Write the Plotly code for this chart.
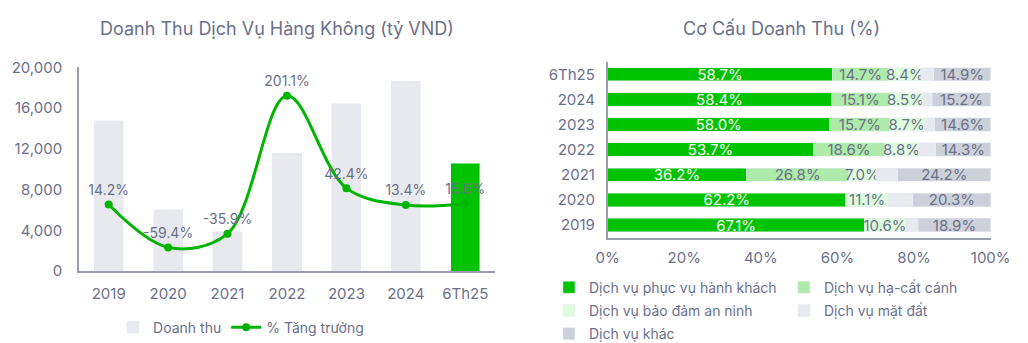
import plotly.graph_objects as go

# ---- Data ----
periods = ["2019", "2020", "2021", "2022", "2023", "2024", "6Th25"]
revenue = [14730, 5990, 3840, 11560, 16430, 18650, 10600]
growth = [14.2, -59.4, -35.9, 201.1, 42.4, 13.4, 15.6]

seg_names = ["Dịch vụ phục vụ hành khách", "Dịch vụ hạ-cất cánh",
             "Dịch vụ bảo đảm an ninh", "Dịch vụ mặt đất", "Dịch vụ khác"]
pax = [67.1, 62.2, 36.2, 53.7, 58.0, 58.4, 58.7]
landing = [0.0, 0.0, 26.8, 18.6, 15.7, 15.1, 14.7]
security = [10.6, 11.1, 7.0, 8.8, 8.7, 8.5, 8.4]
ground = [3.4, 6.4, 5.8, 4.6, 3.0, 2.8, 3.3]
other = [18.9, 20.3, 24.2, 14.3, 14.6, 15.2, 14.9]
show_label = [True, True, True, False, True]
legend_col = ["legend2", "legend3", "legend2", "legend3", "legend2"]

GRAY_TXT = "#6b7089"
FONT = "Inter"
seg_colors = ["#00c300", "#aeeaa9", "#dffcde", "#e8e9ee", "#cdd0d9"]
seg_txt_colors = ["#ffffff", GRAY_TXT, GRAY_TXT, GRAY_TXT, GRAY_TXT]

fig = go.Figure()

# Left chart: revenue bars
bar_colors = ["#e8e9ee"] * (len(periods) - 1) + ["#00c300"]
fig.add_trace(go.Bar(
    x=periods, y=revenue, name="Doanh thu", marker_color=bar_colors,
    width=0.49, xaxis="x", yaxis="y", legend="legend",
    hoverinfo="skip",
))
fig.add_trace(go.Scatter(
    x=periods, y=growth, name="% Tăng trưởng", mode="lines+markers+text",
    line=dict(color="#00b400", width=3, shape="spline", smoothing=1.0),
    marker=dict(color="#00b400", size=8),
    text=[f"{g:.1f}%" for g in growth], textposition="top center",
    textfont=dict(color=GRAY_TXT, size=14, family=FONT),
    xaxis="x", yaxis="y2", legend="legend", cliponaxis=False,
))

# Right chart: stacked composition bars
for i, (name, vals, col, tcol, lab, lg) in enumerate(zip(
        seg_names, [pax, landing, security, ground, other],
        seg_colors, seg_txt_colors, show_label, legend_col)):
    fig.add_trace(go.Bar(
        y=periods, x=vals, name=name, orientation="h", marker_color=col,
        width=0.53, xaxis="x3", yaxis="y3", legend=lg, legendgroup=f"g{i}",
        text=[f"{v:.1f}%" if (lab and v > 0) else "" for v in vals],
        textposition="inside", insidetextanchor="middle", textangle=0,
        constraintext="none",
        textfont=dict(color=tcol, size=15, family=FONT),
        hoverinfo="skip",
    ))

axis_font = dict(color=GRAY_TXT, size=15, family=FONT)
leg_font = dict(size=14, color=GRAY_TXT, family=FONT)
fig.update_layout(
    width=1028, height=343,
    margin=dict(l=0, r=0, t=0, b=0, autoexpand=False),
    paper_bgcolor="white", plot_bgcolor="white",
    font=dict(family=FONT, color=GRAY_TXT, size=14),
    barmode="stack",
    xaxis=dict(domain=[0.0768, 0.4815], showline=True, linecolor="#9a9eac",
               linewidth=1.5, ticks="", tickfont=axis_font, showgrid=False,
               anchor="y", fixedrange=True, ticklabelstandoff=8),
    yaxis=dict(domain=[0.2099, 0.8038], range=[0, 20000], dtick=4000,
               tickformat=",d", showline=True, linecolor="#9a9eac", linewidth=1.5,
               showgrid=False, zeroline=False, tickfont=axis_font, anchor="x",
               ticklabelstandoff=12),
    yaxis2=dict(overlaying="y", range=[-100, 250], visible=False, anchor="x"),
    xaxis3=dict(domain=[0.5911, 0.9637], range=[0, 100], dtick=20, ticksuffix="%",
                showline=True, linecolor="#9a9eac", linewidth=1.5, showgrid=False,
                zeroline=False, tickfont=axis_font, anchor="y3", ticklabelstandoff=6),
    yaxis3=dict(domain=[0.3073, 0.8201], showline=True, linecolor="#9a9eac",
                linewidth=1.5, showgrid=False, tickfont=axis_font, anchor="x3",
                ticklabelstandoff=8),
    legend=dict(orientation="h", x=0.11, xanchor="left", y=0.045, yanchor="middle",
                traceorder="normal", font=leg_font, bgcolor="rgba(0,0,0,0)"),
    legend2=dict(orientation="v", x=0.534, xanchor="left", y=0.208, yanchor="top",
                 traceorder="grouped", tracegroupgap=2,
                 font=leg_font, bgcolor="rgba(0,0,0,0)"),
    legend3=dict(orientation="v", x=0.7626, xanchor="left", y=0.208, yanchor="top",
                 traceorder="grouped", tracegroupgap=2,
                 font=leg_font, bgcolor="rgba(0,0,0,0)"),
    showlegend=True,
    annotations=[
        dict(text="Doanh Thu Dịch Vụ Hàng Không (tỷ VND)", x=0.2695, y=0.918,
             xref="paper", yref="paper", xanchor="center", yanchor="middle",
             showarrow=False, font=dict(size=18, color=GRAY_TXT, family=FONT)),
        dict(text="Cơ Cấu Doanh Thu (%)", x=0.7607, y=0.918,
             xref="paper", yref="paper", xanchor="center", yanchor="middle",
             showarrow=False, font=dict(size=18, color=GRAY_TXT, family=FONT)),
    ],
)

fig.write_html("out.html")
